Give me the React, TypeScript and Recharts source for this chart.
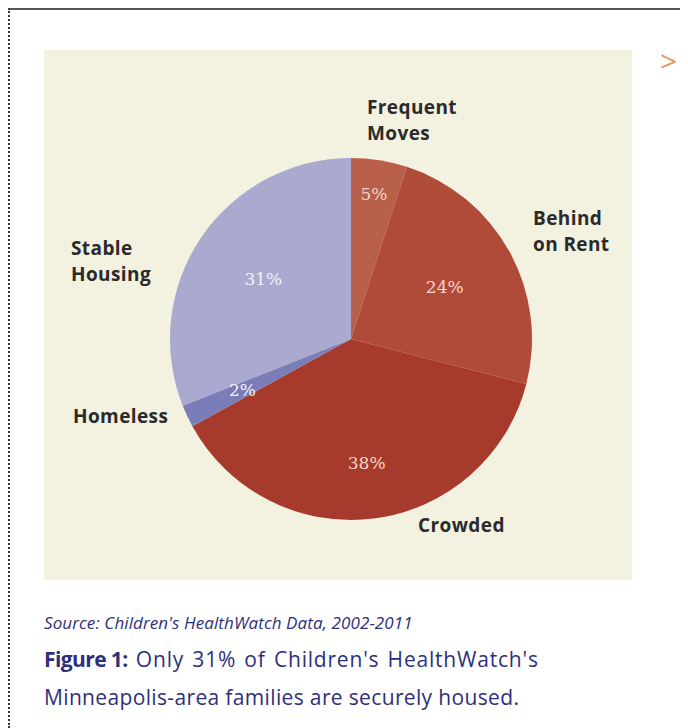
import { PieChart, Pie, Cell } from 'recharts';

const categories = ['Frequent Moves', 'Behind on Rent', 'Crowded', 'Homeless', 'Stable Housing'];
const shares = [5, 24, 38, 2, 31];
const sliceColors = ['#b8604a', '#b04b39', '#a63a2c', '#7b7db8', '#aaa9cf'];

const data = categories.map((name, i) => ({ name, value: shares[i], color: sliceColors[i] }));

// label placement, relative to the pie centre (baseline of first line)
const namePos: Record<string, { dx: number; dy: number; lines: string[] }> = {
    'Frequent Moves': { dx: 16, dy: -225, lines: ['Frequent', 'Moves'] },
    'Behind on Rent': { dx: 182, dy: -114, lines: ['Behind', 'on Rent'] },
    'Crowded': { dx: 67, dy: 193, lines: ['Crowded'] },
    'Homeless': { dx: -278, dy: 84, lines: ['Homeless'] },
    'Stable Housing': { dx: -280, dy: -84, lines: ['Stable', 'Housing'] },
};
const pctRadius: Record<string, number> = {
    'Frequent Moves': 147,
    'Behind on Rent': 107,
    'Crowded': 125,
    'Homeless': 120,
    'Stable Housing': 106,
};

const RAD = Math.PI / 180;

const renderLabel = ({ cx, cy, midAngle, name, value }: any) => {
    const r = pctRadius[name];
    const px = cx + r * Math.cos(-midAngle * RAD);
    const py = cy + r * Math.sin(-midAngle * RAD);
    const pos = namePos[name];
    return (
        <g>
            <text x={px} y={py} textAnchor="middle" dominantBaseline="central"
                fill={name === 'Stable Housing' || name === 'Homeless' ? '#f4f2fa' : '#f6d6c8'}
                fontFamily="'DejaVu Serif', serif" fontSize={17}>
                {value}%
            </text>
            {pos.lines.map((l, i) => (
                <text key={l} x={cx + pos.dx} y={cy + pos.dy + i * 26} textAnchor="start"
                    fill="#2b2b2b" fontFamily="'Open Sans', sans-serif" fontWeight={700} fontSize={19}
                    letterSpacing={0.4}>
                    {l}
                </text>
            ))}
        </g>
    );
};

export default function App() {
    return (
        <div style={{ position: 'relative', width: 680, height: 720, background: '#fff', borderTop: '2px solid #555', borderLeft: '2px dotted #333', boxSizing: 'border-box', fontFamily: "'Open Sans', sans-serif" }}>
            <div style={{ position: 'absolute', left: 34, top: 40, width: 588, height: 530, background: '#f3f1df' }}>
                <PieChart width={588} height={530}>
                    <Pie
                        data={data}
                        dataKey="value"
                        nameKey="name"
                        cx={302}
                        cy={284}
                        outerRadius={181}
                        startAngle={90}
                        endAngle={-270}
                        stroke="none"
                        labelLine={false}
                        label={renderLabel}
                        isAnimationActive={false}
                    >
                        {data.map((entry, index) => (
                            <Cell key={`cell-${index}`} fill={entry.color} />
                        ))}
                    </Pie>
                </PieChart>
            </div>
            <div style={{ position: 'absolute', left: 650, top: 30, color: '#e3975a', fontSize: 30, fontFamily: "'Open Sans', sans-serif" }}>&gt;</div>
            <div style={{ position: 'absolute', left: 34, top: 601, color: '#2e2f7c', fontSize: 17, fontStyle: 'italic', fontFamily: "'Open Sans', sans-serif", letterSpacing: 0.1 }}>
                Source: Children's HealthWatch Data, 2002-2011
            </div>
            <div style={{ position: 'absolute', left: 34, top: 630, color: '#2e2f7c', fontSize: 21, lineHeight: '38px', fontFamily: "'Open Sans', sans-serif" }}>
                <b style={{ letterSpacing: -0.6 }}>Figure 1:</b>
                <span style={{ letterSpacing: 0.8, wordSpacing: 2 }}> Only 31% of Children's HealthWatch's</span><br />
                <span style={{ letterSpacing: 0.35 }}>Minneapolis-area families are securely housed.</span>
            </div>
        </div>
    );
}
